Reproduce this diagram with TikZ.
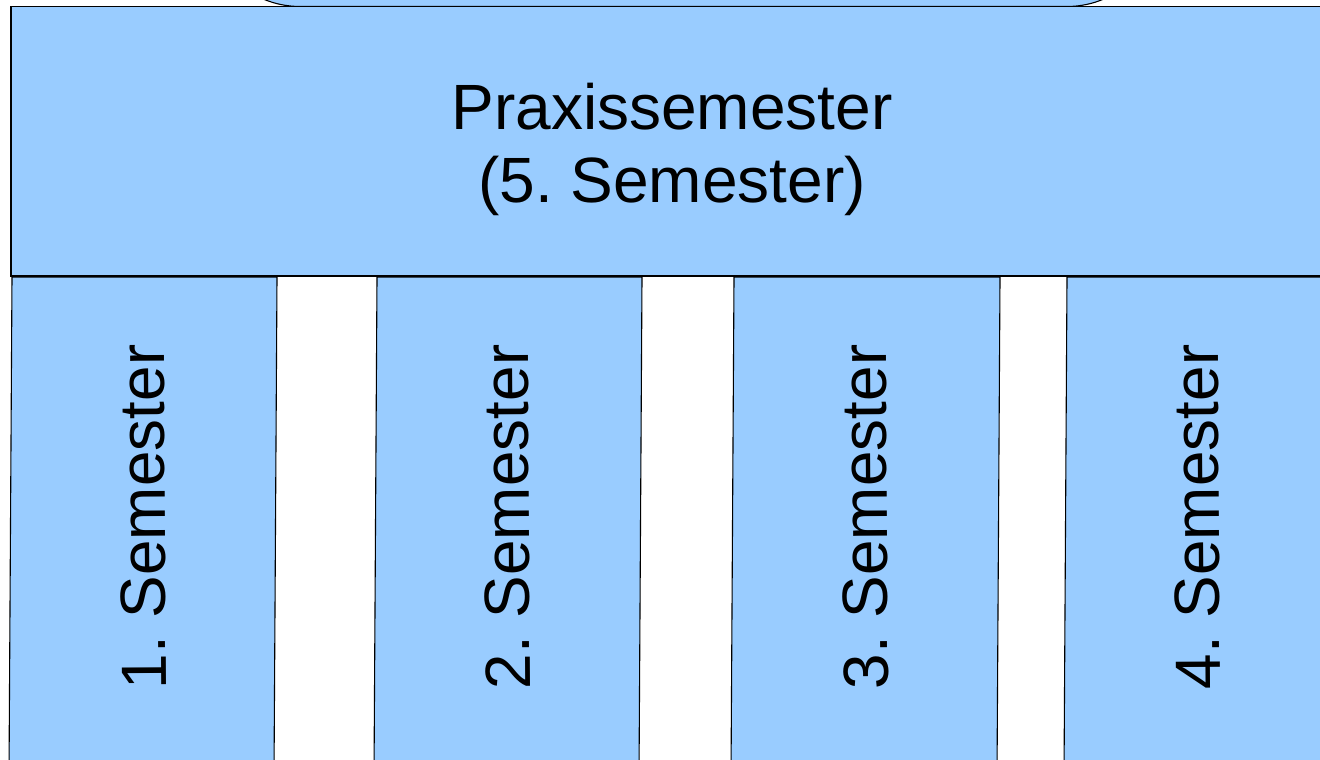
\documentclass[tikz,border=0pt]{standalone}
\usepackage{fontspec}
\setmainfont{Liberation Sans}
\definecolor{boxblue}{RGB}{153,204,255}
\begin{document}
\frenchspacing
\begin{tikzpicture}[x=0.5pt,y=-0.5pt,
  blockfill/.style={fill=boxblue,draw=black,line width=0.55pt,line join=miter},
  bigtext/.style={font=\fontsize{32}{36.5}\selectfont,inner sep=0pt,align=center},
  verttext/.style={font=\fontsize{32}{36.5}\selectfont,inner sep=0pt,rotate=90.35}]
\useasboundingbox (0,0) rectangle (1320,759);
\clip (0,0) rectangle (1320,759);
% top rounded shape (mostly off canvas)
\draw[blockfill,rounded corners=47pt] (206,-200) rectangle (1161,6.5);
% main block
\draw[blockfill] (11,6.5) rectangle (1340,276);
% columns
\draw[blockfill] (12,277) -- (277,277) -- (274,775) -- (9,775) -- cycle;
\draw[blockfill] (377,277) -- (642,277) -- (639,775) -- (374,775) -- cycle;
\draw[blockfill] (734,277) -- (1000,277) -- (997,775) -- (731,775) -- cycle;
\draw[blockfill] (1067,277) -- (1345,277) -- (1342,775) -- (1064,775) -- cycle;
% texts
\node[bigtext] (praxis) at (672,149) {Praxissemester\\(5. Semester)};
\node[verttext] (s1) at (143,517) {1. Semester};
\node[verttext] (s2) at (507,517) {2. Semester};
\node[verttext] (s3) at (865,517) {3. Semester};
\node[verttext] (s4) at (1197,517) {4. Semester};
\end{tikzpicture}
\end{document}
